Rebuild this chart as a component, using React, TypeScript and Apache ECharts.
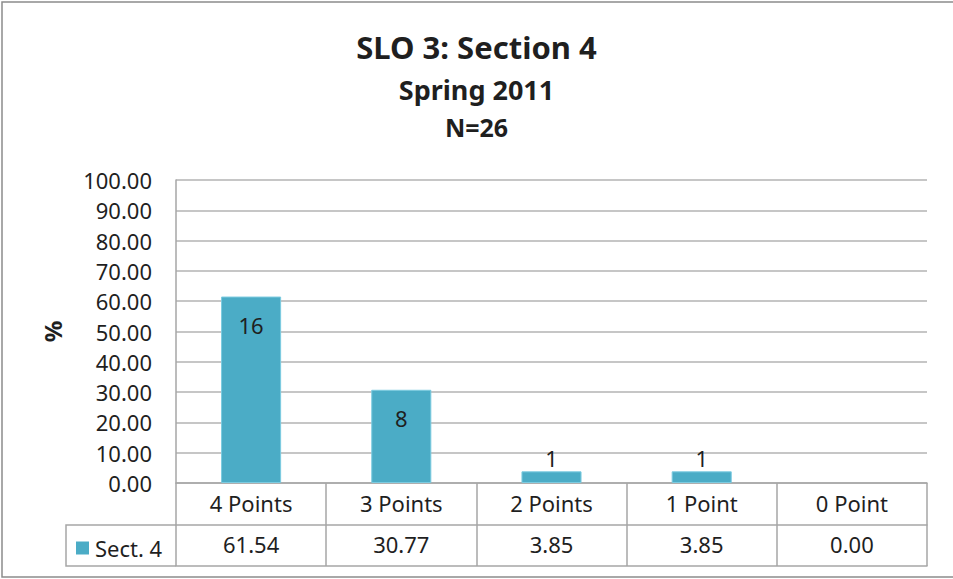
import React, { useEffect, useRef } from "react";
import * as echarts from "echarts";

const categories = ["4 Points", "3 Points", "2 Points", "1 Point", "0 Point"];
const percents = [61.54, 30.77, 3.85, 3.85, 0.0];
const counts = [16, 8, 1, 1, 0];
const seriesName = "Sect. 4";
const titleLines = ["SLO 3: Section 4", "Spring 2011", "N=26"];
const yTicks = { min: 0, max: 100, interval: 10 };

const FONT = "Noto Sans";
const TEXT = "#1f1f1f";
const GRID = "#b3b3b3";
const TABLE = "#a6a6a6";
const BAR = "#4BACC6";

export default function App() {
  const ref = useRef<HTMLDivElement>(null);
  useEffect(() => {
    if (!ref.current) return;
    const chart = echarts.init(ref.current, null, { renderer: "svg" });
    const labelFor = (i: number) => {
      if (counts[i] === 0) return { show: false };
      if (percents[i] > 15)
        return { show: true, position: "insideTop", distance: 17 };
      return { show: true, position: "top", distance: 2 };
    };
    chart.setOption({
      animation: false,
      backgroundColor: "#fff",
      textStyle: { fontFamily: FONT },
      title: [
        {
          text: titleLines[0],
          left: "center",
          top: 26,
          textStyle: { fontFamily: FONT, fontWeight: "bold", fontSize: 31, color: TEXT },
        },
        {
          text: titleLines[1],
          left: "center",
          top: 71,
          textStyle: { fontFamily: FONT, fontWeight: "bold", fontSize: 27, color: TEXT },
        },
        {
          text: titleLines[2],
          left: "center",
          top: 109,
          textStyle: { fontFamily: FONT, fontWeight: "bold", fontSize: 25, color: TEXT },
        },
      ],
      legend: {
        data: [seriesName],
        left: 71,
        top: 532,
        icon: "rect",
        itemWidth: 13,
        itemHeight: 13,
        itemGap: 6,
        textStyle: { fontFamily: FONT, fontSize: 22, color: TEXT, padding: [0, 0, 0, 1] },
      },
      grid: { left: 176, right: 26, top: 180, bottom: 96, containLabel: false },
      xAxis: [
        {
          type: "category",
          data: categories,
          position: "bottom",
          axisLine: { show: true, lineStyle: { color: TABLE, width: 1.5 } },
          axisTick: { show: true, length: 83, lineStyle: { color: TABLE, width: 1.5 } },
          axisLabel: { fontFamily: FONT, fontSize: 22, color: TEXT, margin: 9 },
          splitLine: { show: false },
        },
        {
          type: "category",
          data: categories,
          position: "bottom",
          offset: 42,
          axisLine: { show: true, lineStyle: { color: TABLE, width: 1.5 } },
          axisTick: { show: false },
          axisLabel: {
            fontFamily: FONT,
            fontSize: 22,
            color: TEXT,
            margin: 8,
            formatter: (_v: string, i: number) => percents[i].toFixed(2),
          },
          splitLine: { show: false },
        },
        {
          type: "category",
          data: categories,
          position: "bottom",
          offset: 83,
          axisLine: { show: true, lineStyle: { color: TABLE, width: 1.5 } },
          axisTick: { show: false },
          axisLabel: { show: false },
          splitLine: { show: false },
        },
      ],
      yAxis: {
        type: "value",
        min: yTicks.min,
        max: yTicks.max,
        interval: yTicks.interval,
        name: "%",
        nameLocation: "middle",
        nameRotate: 90,
        nameGap: 112,
        nameTextStyle: { fontFamily: FONT, fontWeight: "bold", fontSize: 24, color: TEXT },
        axisLine: { show: true, lineStyle: { color: TABLE, width: 1.5 } },
        axisTick: { show: false },
        axisLabel: {
          fontFamily: FONT,
          fontSize: 22,
          color: TEXT,
          margin: 24,
          formatter: (v: number) => v.toFixed(2),
        },
        splitLine: { show: true, lineStyle: { color: GRID, width: 1.5 } },
      },
      series: [
        {
          name: seriesName,
          type: "bar",
          xAxisIndex: 0,
          barWidth: "40%",
          itemStyle: { color: BAR },
          data: percents.map((v, i) => ({
            value: v,
            itemStyle: {
              color: BAR,
              borderColor: "#7ccbe0",
              borderWidth: v > 0 ? 1 : 0,
            },
            label: {
              ...labelFor(i),
              formatter: () => String(counts[i]),
              fontFamily: FONT,
              fontSize: 22,
              color: TEXT,
            },
          })),
        },
      ],
      graphic: [
        {
          type: "rect",
          shape: { x: 2, y: 2, width: 980, height: 575 },
          style: { fill: "none", stroke: "#8c8c8c", lineWidth: 1.5 },
          silent: true,
          z: -1,
        },
        {
          type: "polyline",
          shape: { points: [[176, 525], [66, 525], [66, 566], [176, 566]] },
          style: { fill: "none", stroke: TABLE, lineWidth: 1.5 },
          silent: true,
        },
      ],
    });
    return () => chart.dispose();
  }, []);
  return <div ref={ref} style={{ width: 953, height: 579, position: "fixed", left: 0, top: 0 }} />;
}
